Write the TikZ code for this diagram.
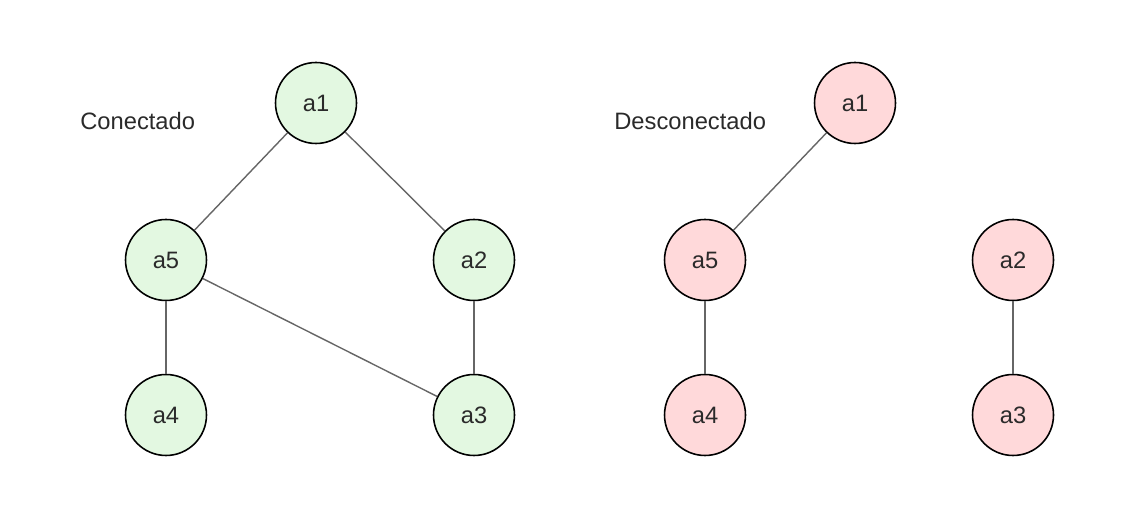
\documentclass[tikz,border=0pt]{standalone}
\usepackage{fontspec}
\setmainfont{Liberation Sans}
\definecolor{okfill}{HTML}{E3F8E1}
\definecolor{offfill}{HTML}{FFD9DA}
\definecolor{edgegray}{HTML}{666666}
\definecolor{textgray}{HTML}{2A2A2A}
\begin{document}
\begin{tikzpicture}[x=0.02cm, y=-0.02cm, every node/.style={font=\fontsize{13.5}{16}\selectfont, text=textgray, inner sep=0pt}]
          \tikzset{vert/.style={draw=black, line width=0.9pt, circle, minimum size=1.62cm},
                   okv/.style={vert, fill=okfill},
                   offv/.style={vert, fill=offfill},
                   link/.style={draw=edgegray, line width=0.8pt}}
          \useasboundingbox (0,0) rectangle (1145,519);
          % connected graph
          \node [anchor=west] (lblok) at (80,121) {Conectado};
          \node [okv] (g1) at (316,103) {a1};
          \node [okv] (g5) at (166,260) {a5};
          \node [okv] (g2) at (474,260) {a2};
          \node [okv] (g4) at (166,415) {a4};
          \node [okv] (g3) at (474,415) {a3};
          \draw [link] (g1) -- (g5);
          \draw [link] (g1) -- (g2);
          \draw [link] (g5) -- (g4);
          \draw [link] (g5) -- (g3);
          \draw [link] (g2) -- (g3);
          % disconnected graph
          \node [anchor=west] (lbloff) at (614,121) {Desconectado};
          \node [offv] (h1) at (855,103) {a1};
          \node [offv] (h5) at (705,260) {a5};
          \node [offv] (h2) at (1013,260) {a2};
          \node [offv] (h4) at (705,415) {a4};
          \node [offv] (h3) at (1013,415) {a3};
          \draw [link] (h1) -- (h5);
          \draw [link] (h5) -- (h4);
          \draw [link] (h2) -- (h3);
        \end{tikzpicture}
\end{document}
